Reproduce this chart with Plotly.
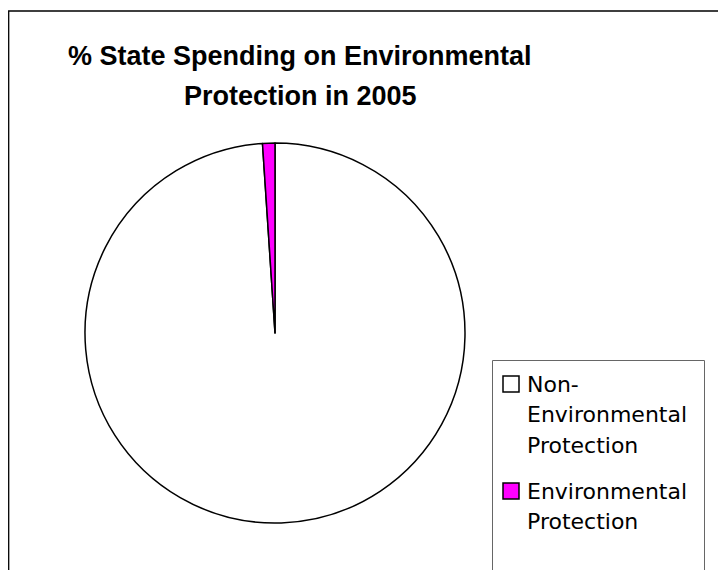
import plotly.graph_objects as go

# Data
labels = ["Non-Environmental Protection", "Environmental Protection"]
values = [98.95, 1.05]
colors = ["#FFFFFF", "#FF00FF"]
legend_lines = [["Non-", "Environmental", "Protection"], ["Environmental", "Protection"]]
title_lines = ["% State Spending on Environmental", "Protection in 2005"]

# page has an 8px body margin; figure sized to fit the window
OFF = 8
W, H = 726 - OFF, 570 - OFF
def px(x):
    return (x - OFF) / W
def py(y):
    return 1 - (y - OFF) / H

fig = go.Figure()
cx, cy, r = 275, 333, 190
fig.add_trace(go.Pie(
    labels=labels, values=values, sort=False, direction="clockwise", rotation=0,
    marker=dict(colors=colors, line=dict(color="black", width=1.5)),
    textinfo="none", hoverinfo="label+percent", showlegend=False,
    domain=dict(x=[px(cx - r), px(cx + r)], y=[py(cy + r), py(cy - r)]),
))

shapes = []
annotations = []
# chart border (cut off at right/bottom)
shapes.append(dict(type="rect", xref="paper", yref="paper",
                   x0=px(8.7), x1=px(760), y0=py(600), y1=py(11),
                   line=dict(color="black", width=1.3), fillcolor="rgba(0,0,0,0)", layer="above"))
# legend box
shapes.append(dict(type="rect", xref="paper", yref="paper",
                   x0=px(492.5), x1=px(704.5), y0=py(600), y1=py(360.5),
                   line=dict(color="#666666", width=1), fillcolor="rgba(0,0,0,0)", layer="above"))

# titles
title_y = [56, 96]
for t, y in zip(title_lines, title_y):
    annotations.append(dict(text="<b>" + t + "</b>", x=px(300), y=py(y), xref="paper", yref="paper",
                            xanchor="center", yanchor="middle", showarrow=False,
                            font=dict(family="Liberation Sans, Arial", size=27, color="black")))

# legend entries
marker_tops = [376, 483]
line_step = 30.5
for i, (lines, top) in enumerate(zip(legend_lines, marker_tops)):
    shapes.append(dict(type="rect", xref="paper", yref="paper",
                       x0=px(503), x1=px(519), y0=py(top + 16), y1=py(top),
                       line=dict(color="black", width=1.5), fillcolor=colors[i], layer="above"))
    for j, ln in enumerate(lines):
        annotations.append(dict(text=ln, x=px(525), y=py(top + 8 + j * line_step), xref="paper", yref="paper",
                                xanchor="left", yanchor="middle", showarrow=False,
                                font=dict(family="DejaVu Sans", size=22, color="black")))

fig.update_layout(
    width=W, height=H, margin=dict(l=0, r=0, t=0, b=0),
    paper_bgcolor="white", plot_bgcolor="white",
    shapes=shapes, annotations=annotations, showlegend=False,
)
fig.write_html("out.html")
